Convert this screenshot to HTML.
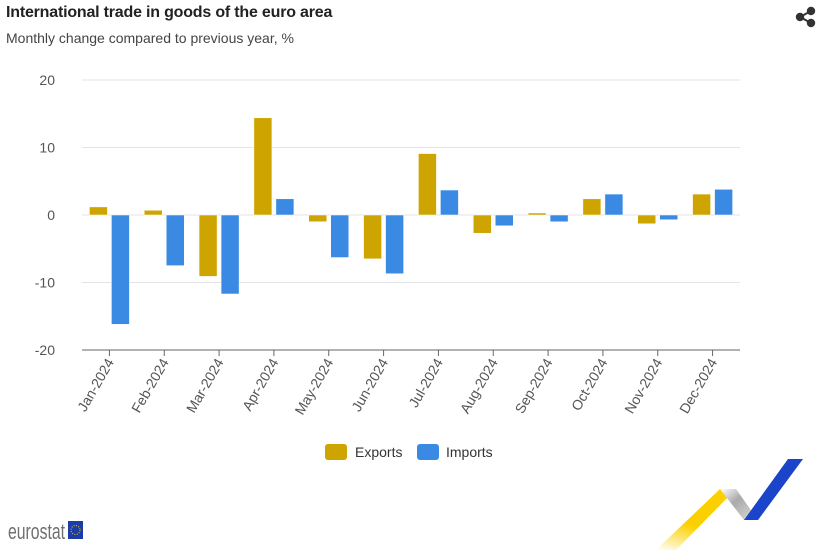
<!DOCTYPE html>
<html><head><meta charset="utf-8"><style>
body{margin:0;width:823px;height:550px;background:#fff;font-family:"Liberation Sans",sans-serif;overflow:hidden;position:relative}
.t{position:absolute;left:6px;top:4px;font-size:16px;font-weight:bold;color:#222;letter-spacing:-0.2px}
.s{position:absolute;left:6px;top:30px;font-size:14px;color:#444}
</style></head><body>
<div class="t">International trade in goods of the euro area</div>
<div class="s">Monthly change compared to previous year, %</div>
<svg width="823" height="550" style="position:absolute;left:0;top:0" id="svg">
<g fill="#333" stroke="#333" stroke-width="2">
<circle cx="811" cy="11" r="3.2"/><circle cx="800" cy="17" r="3.2"/><circle cx="811" cy="23" r="3.2"/>
<line x1="811" y1="11" x2="800" y2="17"/><line x1="800" y1="17" x2="811" y2="23"/></g>
<g id="grid"></g><g id="bars"></g><g id="xl"></g>
<g>
<g><rect x="325" y="444" width="22" height="16" rx="3" fill="#cea500"/><text x="355" y="457" font-size="14" fill="#333">Exports</text></g>
<g><rect x="417" y="444" width="22" height="16" rx="3" fill="#3a8ae3"/><text x="446" y="457" font-size="14" fill="#333">Imports</text></g>
</g>
<g>
<text x="8" y="539" font-size="22" fill="#707070" textLength="57" lengthAdjust="spacingAndGlyphs">eurostat</text>
<rect x="68" y="521" width="15" height="18" fill="#1c3ca8"/><circle cx="75.5" cy="530" r="4.5" fill="none" stroke="#e8c300" stroke-width="1" stroke-dasharray="1 1.4"/>
</g>
<g>
<defs><linearGradient id="yg" x1="0" y1="1" x2="0.4" y2="0"><stop offset="0" stop-color="#fff"/><stop offset="0.5" stop-color="#fcd000"/></linearGradient>
<linearGradient id="gg" x1="0" y1="0" x2="1" y2="1"><stop offset="0" stop-color="#fff"/><stop offset="0.4" stop-color="#aaa"/><stop offset="1" stop-color="#ddd"/></linearGradient></defs>
<polygon points="656,550 676,550 736,489 720,489" fill="url(#yg)"/>
<polygon points="720,489 736,489 758,520 744,520" fill="url(#gg)"/>
<polygon points="744,520 758,520 803,459 788,459" fill="#1a44c9"/>
</g>
</svg>
<script>
const categories=["Jan-2024","Feb-2024","Mar-2024","Apr-2024","May-2024","Jun-2024","Jul-2024","Aug-2024","Sep-2024","Oct-2024","Nov-2024","Dec-2024"];
const exportsVals=[1.2,0.7,-9.1,14.4,-1.0,-6.5,9.1,-2.7,0.3,2.4,-1.3,3.1];
const importsVals=[-16.2,-7.5,-11.7,2.4,-6.3,-8.7,3.7,-1.6,-1.0,3.1,-0.7,3.8];
const yTicks=[20,10,0,-10,-20];
const NS="http://www.w3.org/2000/svg";
const X0=82,X1=740,Y0=80,Y1=350,YMAX=20,YMIN=-20;
const bw=(X1-X0)/categories.length;
function y(v){return Y0+(YMAX-v)/(YMAX-YMIN)*(Y1-Y0);}
function xc(i){return X0+bw*(i+0.5);}
function mk(t,a,p){const e=document.createElementNS(NS,t);for(const k in a)e.setAttribute(k,a[k]);p.appendChild(e);return e;}
const grid=document.getElementById('grid'),bars=document.getElementById('bars'),xl=document.getElementById('xl');
yTicks.forEach(v=>{
 if(v!==YMIN){const l=mk('line',{x1:X0,x2:X1,y1:y(v),y2:y(v),stroke:'#e3e3e8','stroke-width':1},grid);
 
 }
 const t=mk('text',{x:55,y:y(v)+5,'text-anchor':'end','font-size':14,fill:'#555'},grid);t.textContent=v;
 
 
});
const ax=mk('line',{x1:X0,x2:X1,y1:Y1,y2:Y1,stroke:'#666','stroke-width':1},grid);


function bar(v,x,c){const a=y(0),b=y(v);const r=mk('rect',{x:x,y:Math.min(a,b),width:18,height:Math.max(Math.abs(a-b),0.5),fill:c,stroke:'#fff','stroke-width':0.5},bars);return r;}
categories.forEach((c,i)=>{
 const cx=xc(i);
 const e=bar(exportsVals[i],cx-20,'#cea500');
 
 
 const m=bar(importsVals[i],cx+2,'#3a8ae3');
 
 
 const tk=mk('line',{x1:cx,x2:cx,y1:Y1,y2:Y1+6,stroke:'#666'},xl);
 
 
 const t=mk('text',{x:cx+5,y:Y1+12,'text-anchor':'end','font-size':14,fill:'#555',transform:`rotate(-60 ${cx+5} ${Y1+12})`},xl);
 t.textContent=c;
 
 
});
</script>
</body></html>
